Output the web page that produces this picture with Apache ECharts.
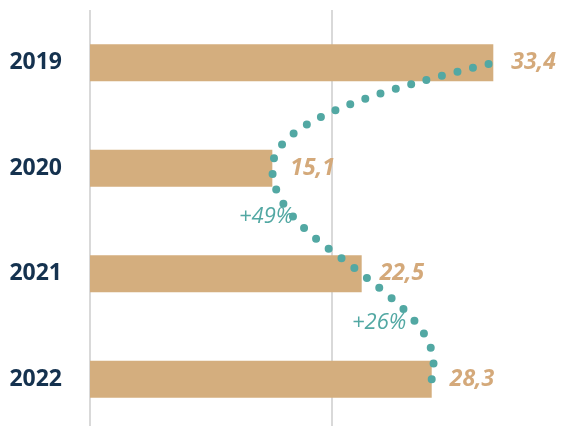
<!DOCTYPE html>
<html>
<head>
<meta charset="utf-8">
<script src="https://cdn.jsdelivr.net/npm/echarts@6/dist/echarts.min.js"></script>
<style>
  html, body { margin: 0; padding: 0; background: #fff; }
  #main { width: 565px; height: 426px; }
</style>
</head>
<body>
<div id="main"></div>
<script>
var years = ['2019', '2020', '2021', '2022'];
var values = [33.4, 15.1, 22.5, 28.3];
var changes = ['-55%', '+49%', '+26%'];

var chartDom = document.getElementById('main');
var myChart = echarts.init(chartDom);
var font = '"Open Sans", sans-serif';

// hand-drawn looking curve through the bar ends (drawn from 2022 up to 2019)
function renderCurve(params, api) {
  if (params.dataIndex !== 0) return null;
  var p = values.map(function (v, i) { return api.coord([v, i]); });
  var a = p[0], b = p[1], c = p[2], d = p[3];
  // segment 2019 -> 2020
  var a1 = [a[0] - (a[0] - b[0]) * 0.51, a[1] + (b[1] - a[1]) * 0.26];
  var a2 = [b[0], b[1] - (b[1] - a[1]) * 0.45];
  // segment 2020 -> 2021
  var b1 = [b[0], b[1] + (c[1] - b[1]) * 0.45];
  var b2 = [c[0] - (c[0] - b[0]) * 0.36, c[1] - (c[1] - b[1]) * 0.25];
  // segment 2021 -> 2022
  var c1 = [c[0] + (d[0] - c[0]) * 0.69, c[1] + (d[1] - c[1]) * 0.36];
  var c2 = [d[0] + 10, d[1] - (d[1] - c[1]) * 0.38];
  function pt(q) { return q[0].toFixed(1) + ' ' + q[1].toFixed(1); }
  var path = 'M' + pt(d) +
    ' C' + pt(c2) + ' ' + pt(c1) + ' ' + pt(c) +
    ' C' + pt(b2) + ' ' + pt(b1) + ' ' + pt(b) +
    ' C' + pt(a2) + ' ' + pt(a1) + ' ' + pt(a);
  return {
    type: 'path',
    shape: { pathData: path },
    style: {
      fill: 'none',
      stroke: '#52a8a3',
      lineWidth: 8,
      lineDash: [0, 16],
      lineCap: 'round'
    }
  };
}

var option = {
  animation: false,
  backgroundColor: '#fff',
  grid: { left: 90, right: -8, top: 10, bottom: -6, containLabel: false, outerBoundsMode: 'none' },
  xAxis: {
    type: 'value',
    min: 0,
    max: 40,
    interval: 20,
    axisLine: { show: false },
    axisTick: { show: false },
    axisLabel: { show: false },
    splitLine: { lineStyle: { color: '#d9d9d9', width: 2 } }
  },
  yAxis: {
    type: 'category',
    inverse: true,
    data: years,
    axisLine: { show: false },
    axisTick: { show: false },
    axisLabel: {
      margin: 28,
      color: '#15324f',
      fontFamily: font,
      fontWeight: 'bold',
      fontSize: 23
    }
  },
  series: [
    {
      type: 'bar',
      data: values,
      barWidth: 37,
      itemStyle: { color: '#d4ae7e' },
      label: {
        show: true,
        position: 'right',
        distance: 18,
        color: '#d4a97a',
        fontFamily: font,
        fontStyle: 'italic',
        fontWeight: 'bold',
        fontSize: 23,
        formatter: function (p) { return String(p.value).replace('.', ','); }
      }
    },
    {
      type: 'custom',
      coordinateSystem: 'cartesian2d',
      clip: false,
      z: 5,
      data: values.map(function (v, i) { return [v, i]; }),
      encode: { x: 0, y: 1 },
      renderItem: renderCurve
    }
  ],
  graphic: [
    { type: 'text', left: 234, top: 55, style: { text: changes[0], fill: '#f0899a', font: 'italic 22px "Open Sans"' } },
    { type: 'text', left: 239, top: 206, style: { text: changes[1], fill: '#52a8a3', font: 'italic 22px "Open Sans"' } },
    { type: 'text', left: 352, top: 312, style: { text: changes[2], fill: '#52a8a3', font: 'italic 22px "Open Sans"' } }
  ]
};

option && myChart.setOption(option);
window.addEventListener('resize', myChart.resize);
</script>
</body>
</html>
